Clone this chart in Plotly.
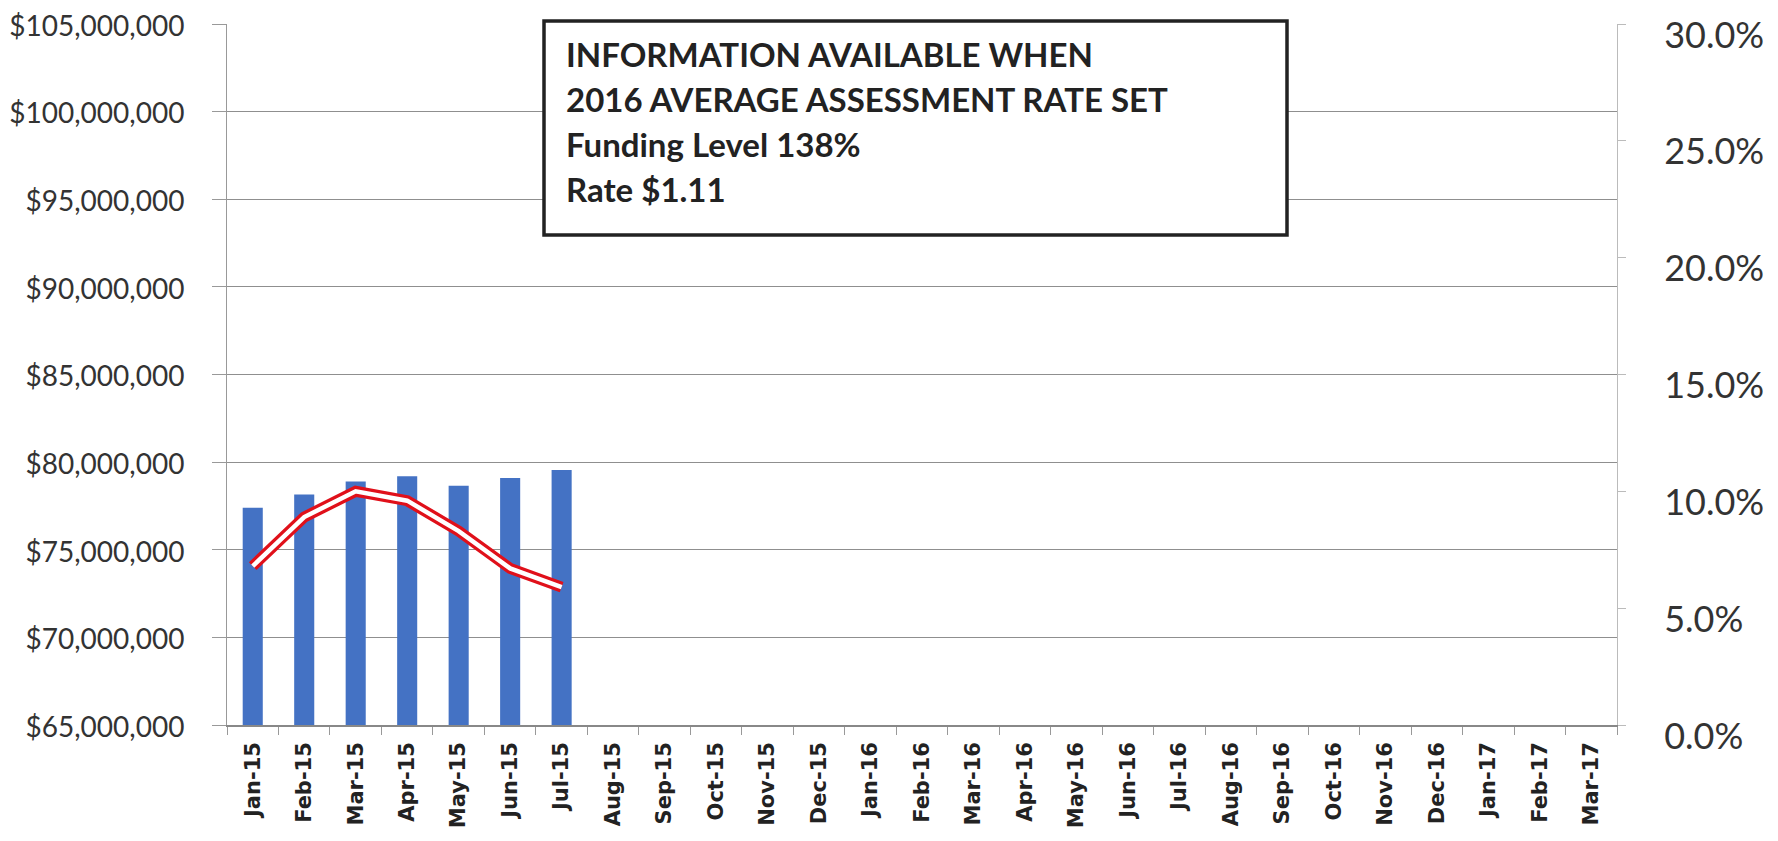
import plotly.graph_objects as go

months = ["Jan-15", "Feb-15", "Mar-15", "Apr-15", "May-15", "Jun-15", "Jul-15",
          "Aug-15", "Sep-15", "Oct-15", "Nov-15", "Dec-15",
          "Jan-16", "Feb-16", "Mar-16", "Apr-16", "May-16", "Jun-16", "Jul-16",
          "Aug-16", "Sep-16", "Oct-16", "Nov-16", "Dec-16",
          "Jan-17", "Feb-17", "Mar-17"]
assessment = [77400000, 78150000, 78900000, 79200000, 78650000, 79100000, 79550000]
rate_pct = [0.068, 0.089, 0.100, 0.096, 0.083, 0.067, 0.059]
box_lines = ["INFORMATION AVAILABLE WHEN",
             "2016 AVERAGE ASSESSMENT RATE SET",
             "Funding Level 138%",
             "Rate $1.11"]

# page body has an 8px default margin; work in screen pixels and offset
OFF = 8
W, H = 1778 - 2 * OFF, 841 - 2 * OFF
SL, SR, ST, SB = 227, 1617, 24, 725          # plot area in screen pixels
L, T = SL - OFF, ST - OFF
R = W - (SR - OFF)
B = H - (SB - OFF)
pw, ph = W - L - R, H - T - B

def px(x):
    return (x - SL) / pw

def py(y):
    return 1 - (y - ST) / ph

fig = go.Figure()
fig.add_trace(go.Bar(x=months[:len(assessment)], y=assessment,
                     marker=dict(color="#4472C4", line=dict(width=0)),
                     showlegend=False, hoverinfo="x+y"))
fig.add_trace(go.Scatter(x=months[:len(rate_pct)], y=rate_pct, yaxis="y2",
                         mode="lines", line=dict(color="#E0101A", width=11),
                         showlegend=False, hoverinfo="skip"))
fig.add_trace(go.Scatter(x=months[:len(rate_pct)], y=rate_pct, yaxis="y2",
                         mode="lines", line=dict(color="white", width=4.5),
                         showlegend=False, hoverinfo="x+y"))

shapes = [dict(type="rect", xref="paper", yref="paper",
               x0=px(544), x1=px(1287), y0=py(235), y1=py(21),
               line=dict(color="#222222", width=3.5), fillcolor="white",
               layer="above")]
annotations = []
line_centers = [54, 99, 144, 189]
for txt, yc in zip(box_lines, line_centers):
    annotations.append(dict(text="<b>" + txt + "</b>", xref="paper", yref="paper",
                            x=px(564), y=py(yc), xanchor="left", yanchor="middle",
                            showarrow=False,
                            font=dict(family="Lato", size=33, color="#222222")))

fig.update_layout(
    width=W, height=H,
    margin=dict(l=L, r=R, t=T, b=B, pad=0, autoexpand=False),
    paper_bgcolor="white", plot_bgcolor="white",
    bargap=0.61,
    shapes=shapes, annotations=annotations,
    xaxis=dict(type="category", categoryorder="array", categoryarray=months,
               range=[-0.5, len(months) - 0.5], automargin=False,
               tickangle=-90, tickson="boundaries", ticks="outside", ticklen=8,
               tickcolor="#999999", showline=True, linecolor="#888888", linewidth=1.5,
               showgrid=False, ticklabelstandoff=7, ticklabeloverflow="allow",
               tickfont=dict(family="DejaVu Sans", size=21, color="#222222",
                             weight="bold")),
    yaxis=dict(range=[65000000, 105000000], dtick=5000000, tick0=65000000,
               tickprefix="$", tickformat=",d", automargin=False,
               showgrid=True, gridcolor="#8f8f8f", gridwidth=1,
               showline=True, linecolor="#999999", linewidth=1,
               ticks="outside", ticklen=14, tickcolor="#999999",
               ticklabelstandoff=22, ticklabelshift=2, zeroline=False,
               ticklabeloverflow="allow",
               tickfont=dict(family="Lato", size=28, color="#333333")),
    yaxis2=dict(range=[0, 0.30], dtick=0.05, tickformat=".1%",
                overlaying="y", side="right", showgrid=False, automargin=False,
                showline=True, linecolor="#bbbbbb", linewidth=1,
                ticks="outside", ticklen=8, tickcolor="#bbbbbb",
                ticklabelstandoff=31, ticklabelshift=11, ticklabeloverflow="allow",
                zeroline=False,
                tickfont=dict(family="Lato", size=36, color="#333333")),
)

fig.write_html("out.html")
